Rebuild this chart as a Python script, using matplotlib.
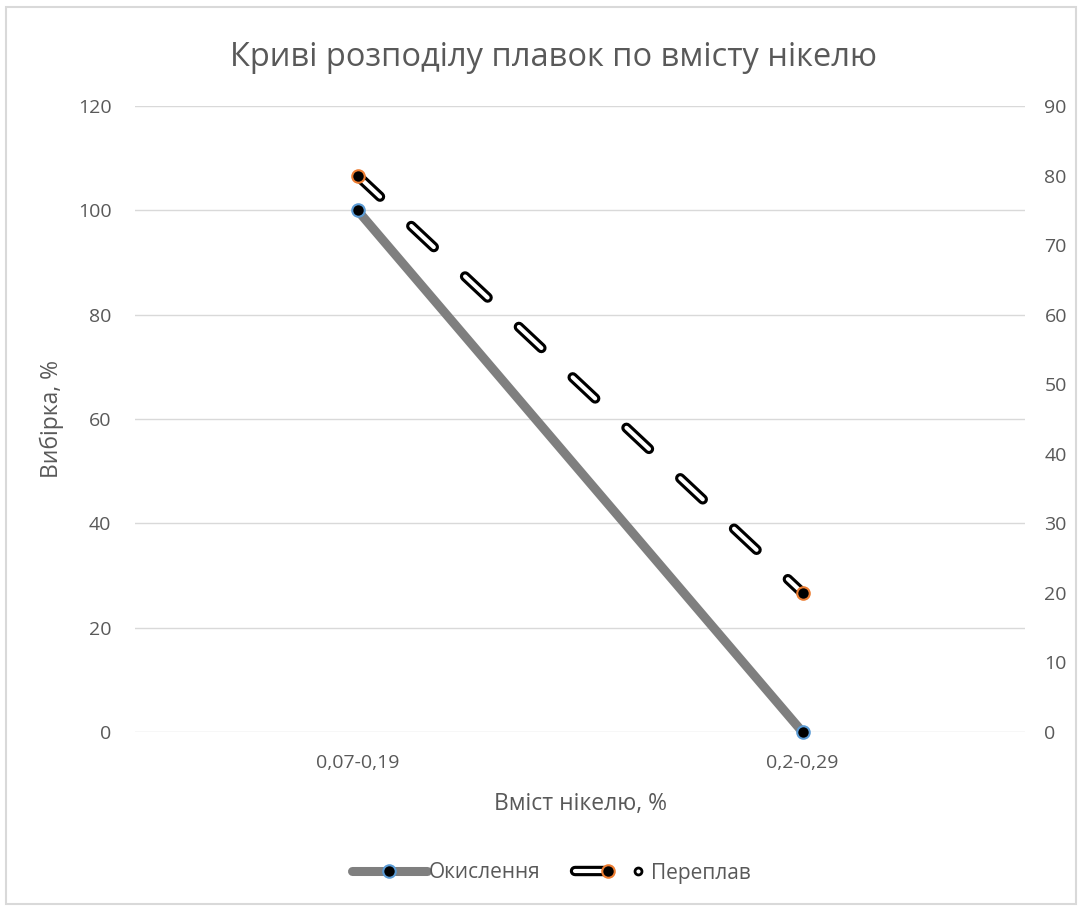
import matplotlib.pyplot as plt
import matplotlib.patheffects as pe
from matplotlib.lines import Line2D
from matplotlib.patches import Rectangle
from matplotlib.legend_handler import HandlerBase

categories = ["0,07-0,19", "0,2-0,29"]
okyslennia = [100, 0]
pereplav = [80, 20]

plt.rcParams['font.family'] = ['Open Sans', 'DejaVu Sans']
txt = '#595959'
W, H = 1081, 909

fig = plt.figure(figsize=(W / 100, H / 100), dpi=100)
fig.patches.append(Rectangle((5.5 / W, 1 - 904 / H), 1070 / W, 897 / H, transform=fig.transFigure,
                             fill=False, edgecolor='#D9D9D9', linewidth=1.5))
ax = fig.add_axes([135 / W, 1 - 732 / H, 890 / W, 626 / H])
ax2 = ax.twinx()

x = list(range(len(categories)))
double = [pe.Stroke(linewidth=7.5, foreground='black'), pe.Normal()]

ax.plot(x, okyslennia, color='#7F7F7F', linewidth=6.5, solid_capstyle='round',
        marker='o', markersize=9, markerfacecolor='black', markeredgecolor='#5B9BD5',
        markeredgewidth=1.5, zorder=3, clip_on=False)

line2, = ax2.plot(x, pereplav, color='white', linewidth=3, dashes=(7.4, 10.3),
                  dash_capstyle='round', zorder=3, clip_on=False)
line2.set_path_effects(double)
ax2.plot(x, pereplav, linestyle='none', marker='o', markersize=9, clip_on=False,
         markerfacecolor='black', markeredgecolor='#ED7D31', markeredgewidth=1.5, zorder=4)

ax.set_xlim(-0.5, 1.5)
ax.set_ylim(0, 120)
ax2.set_ylim(0, 90)
ax.set_yticks(range(0, 121, 20))
ax2.set_yticks(range(0, 91, 10))
ax.set_xticks(x)
ax.set_xticklabels(categories)

ax.grid(axis='y', color='#D9D9D9', linewidth=1)
ax.set_axisbelow(True)
for a in (ax, ax2):
    for s in a.spines.values():
        s.set_visible(False)
    a.tick_params(length=0, labelsize=14, colors=txt)
ax.tick_params(axis='y', pad=17)
ax2.tick_params(axis='y', pad=14)
ax.tick_params(axis='x', pad=16)

ax.set_xlabel('Вміст нікелю, %', fontsize=16.5, color=txt, labelpad=14)
ax.set_ylabel('Вибірка, %', fontsize=16.5, color=txt, labelpad=10)
fig.text(554 / W, 1 - 57 / H, 'Криві розподілу плавок по вмісту нікелю', ha='center',
         va='center', fontsize=23.5, color=txt)


class PereplavHandler(HandlerBase):
    # double line with the orange marker at its end, then a small ring
    def create_artists(self, legend, orig_handle, xdescent, ydescent, width, height, fontsize, trans):
        y = height / 2 - ydescent
        x0 = -xdescent
        seg = Line2D([x0 + 0.02 * width, x0 + 0.4 * width], [y, y], color='white', linewidth=3,
                     solid_capstyle='round', path_effects=double)
        mk = Line2D([x0 + 0.45 * width], [y], linestyle='none', marker='o', markersize=9,
                    markerfacecolor='black', markeredgecolor='#ED7D31', markeredgewidth=1.5)
        dot = Line2D([x0 + 0.86 * width], [y], linestyle='none', marker='o', markersize=5,
                     markerfacecolor='white', markeredgecolor='black', markeredgewidth=2)
        for a in (seg, mk, dot):
            a.set_transform(trans)
        return [seg, mk, dot]


h1 = Line2D([], [], color='#7F7F7F', linewidth=6.5, solid_capstyle='round', marker='o',
            markersize=9, markerfacecolor='black', markeredgecolor='#5B9BD5', markeredgewidth=1.5)
h2 = Line2D([], [])
fig.legend([h1, h2], ['Окислення', 'Переплав'], loc='center',
           bbox_to_anchor=(0.51, 1 - 873 / H), ncol=2, frameon=False, numpoints=1,
           fontsize=15, labelcolor=txt, handlelength=3.6, handletextpad=0.1,
           columnspacing=1.6, handler_map={h2: PereplavHandler()})

fig.savefig('out.png', dpi=100)
